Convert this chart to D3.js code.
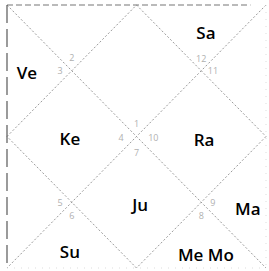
<!DOCTYPE html>
<html>
<head>
<meta charset="utf-8">
<script src="https://cdn.jsdelivr.net/npm/d3@7"></script>
<style>
  html, body { margin: 0; padding: 0; background: #fff; }
  svg { display: block; }
</style>
</head>
<body>
<svg id="chart" width="269" height="271"></svg>
<script>
// chart data
var planets = ["Ve", "Sa", "Ke", "Ra", "Ju", "Ma", "Su", "Me Mo"];
var planetHouse = [3, 12, 4, 10, 7, 9, 6, 8];
var houses = [1, 2, 3, 4, 5, 6, 7, 8, 9, 10, 11, 12];
var signs = [1, 2, 3, 4, 5, 6, 7, 8, 9, 10, 11, 12];

// layout of the north indian chart, unit square
var labelAnchor = {
  1: [0.5, 0.25], 2: [0.25, 0.10], 3: [0.077, 0.255], 4: [0.243, 0.506],
  5: [0.08, 0.75], 6: [0.243, 0.939], 7: [0.514, 0.757], 8: [0.768, 0.947],
  9: [0.93, 0.772], 10: [0.761, 0.513], 11: [0.92, 0.25], 12: [0.768, 0.106]
};
var signAnchor = {
  1: [0.5, 0.45], 2: [0.25, 0.2], 3: [0.205, 0.25], 4: [0.44, 0.505],
  5: [0.205, 0.75], 6: [0.25, 0.8], 7: [0.5, 0.56], 8: [0.75, 0.8],
  9: [0.795, 0.75], 10: [0.565, 0.505], 11: [0.795, 0.25], 12: [0.75, 0.205]
};

var svg = d3.select("#chart");
var x = d3.scaleLinear().domain([0, 1]).range([7, 266]);
var y = d3.scaleLinear().domain([0, 1]).range([5, 268]);

var lines = [
  // diagonals
  {a: [0, 0], b: [1, 1]},
  {a: [1, 0], b: [0, 1]},
  // inner diamond
  {a: [0.5, 0], b: [1, 0.5]},
  {a: [1, 0.5], b: [0.5, 1]},
  {a: [0.5, 1], b: [0, 0.5]},
  {a: [0, 0.5], b: [0.5, 0]}
];

svg.append("g").selectAll("line")
  .data(lines)
  .enter()
  .append("line")
  .attr("x1", function(d){ return x(d.a[0]); })
  .attr("y1", function(d){ return y(d.a[1]); })
  .attr("x2", function(d){ return x(d.b[0]); })
  .attr("y2", function(d){ return y(d.b[1]); })
  .attr("stroke", "#9a9a9a")
  .attr("stroke-width", 1)
  .attr("stroke-dasharray", "2,2");

// frame: top and left still visible on the scan, right/bottom faded
svg.append("line")
  .attr("x1", x(0)).attr("y1", y(0)).attr("x2", x(0.94)).attr("y2", y(0))
  .attr("stroke", "#777").attr("stroke-width", 1.2).attr("stroke-dasharray", "6,3");
svg.append("line")
  .attr("x1", x(0)).attr("y1", y(0)).attr("x2", x(0)).attr("y2", y(1))
  .attr("stroke", "#666").attr("stroke-width", 1.3).attr("stroke-dasharray", "18,6");
svg.append("line")
  .attr("x1", x(1)).attr("y1", y(0)).attr("x2", x(1)).attr("y2", y(1))
  .attr("stroke", "#ddd").attr("stroke-width", 1).attr("stroke-dasharray", "1,6");
svg.append("line")
  .attr("x1", x(0)).attr("y1", y(1)).attr("x2", x(1)).attr("y2", y(1))
  .attr("stroke", "#ddd").attr("stroke-width", 1).attr("stroke-dasharray", "1,6");

// sign numbers (faint on the scan)
svg.append("g").selectAll("text")
  .data(houses)
  .enter()
  .append("text")
  .attr("x", function(h){ return x(signAnchor[h][0]); })
  .attr("y", function(h){ return y(signAnchor[h][1]); })
  .attr("text-anchor", "middle")
  .attr("dominant-baseline", "central")
  .attr("font-family", "'Open Sans', sans-serif")
  .attr("font-size", 9)
  .attr("fill", "#b0b0b0")
  .text(function(h, i){ return signs[i]; });

// planets
svg.append("g").selectAll("text")
  .data(planets)
  .enter()
  .append("text")
  .attr("x", function(p, i){ return x(labelAnchor[planetHouse[i]][0]); })
  .attr("y", function(p, i){ return y(labelAnchor[planetHouse[i]][1]); })
  .attr("text-anchor", "middle")
  .attr("dominant-baseline", "central")
  .attr("font-family", "'Open Sans', sans-serif")
  .attr("font-weight", 600)
  .attr("font-size", 17)
  .attr("fill", "#000")
  .text(function(p){ return p; });
</script>
</body>
</html>
